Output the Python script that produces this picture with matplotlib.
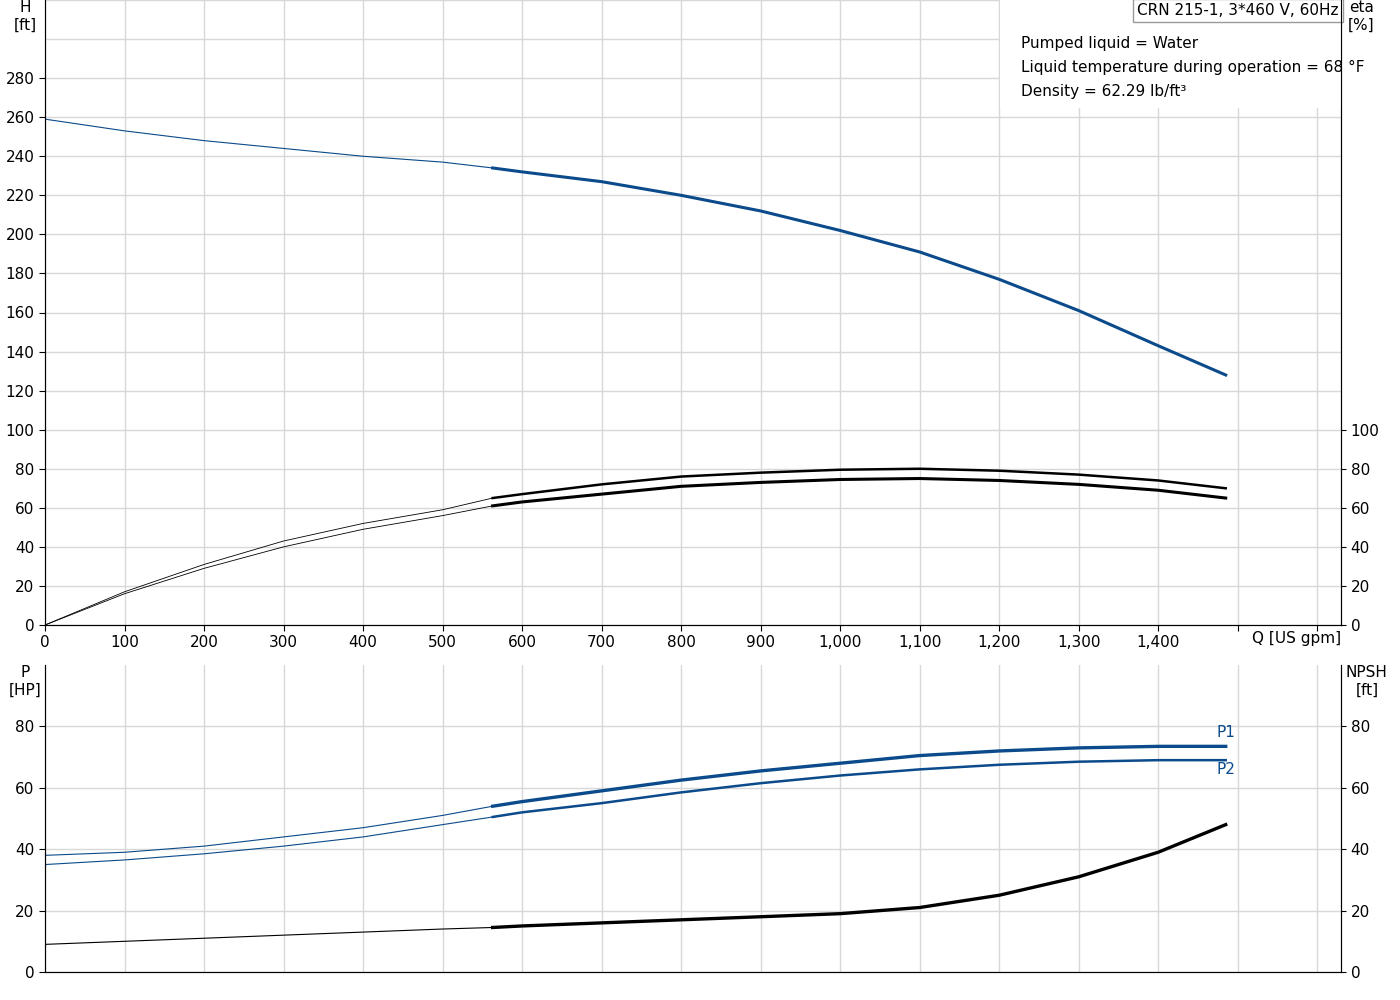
import matplotlib
matplotlib.use('Agg')
import matplotlib.pyplot as plt
import numpy as np
from matplotlib.patches import Rectangle

q = [0, 100, 200, 300, 400, 500, 563, 600, 700, 800, 900, 1000, 1100, 1200, 1300, 1400, 1485]
head = [259, 253, 248, 244, 240, 237, 234, 232, 227, 220, 212, 202, 191, 177, 161, 143, 128]
eta1 = [0, 17, 31, 43, 52, 59, 65, 67, 72, 76, 78, 79.5, 80, 79, 77, 74, 70]
eta2 = [0, 16, 29, 40, 49, 56, 61, 63, 67, 71, 73, 74.5, 75, 74, 72, 69, 65]
p1 = [38, 39, 41, 44, 47, 51, 54, 55.5, 59, 62.5, 65.5, 68, 70.5, 72, 73, 73.5, 73.5]
p2 = [35, 36.5, 38.5, 41, 44, 48, 50.5, 52, 55, 58.5, 61.5, 64, 66, 67.5, 68.5, 69, 69]
npsh = [9, 10, 11, 12, 13, 14, 14.5, 15, 16, 17, 18, 19, 21, 25, 31, 39, 48]
qmin = 563
xticks = list(range(0, 1500, 100))
xlabels = ['0'] + [f'{v:,}' for v in xticks[1:]]

blue = '#0b4a8b'
fig = plt.figure(figsize=(14, 10), dpi=100)
ax1 = fig.add_axes([45/1400, 1-625/1000, 1296/1400, 625/1000])
ax2 = fig.add_axes([45/1400, 1-972/1000, 1296/1400, 307/1000])

def curve(ax, y, color, lw_thin, lw_thick):
    qa = np.array(q); ya = np.array(y)
    m = qa <= qmin
    ax.plot(qa[m], ya[m], color=color, lw=lw_thin)
    ax.plot(qa[qa >= qmin], ya[qa >= qmin], color=color, lw=lw_thick)

for ax in (ax1, ax2):
    ax.set_xlim(0, 1630)
    ax.set_xticks(range(0, 1700, 100), minor=False)
    ax.grid(True, color='#d8d8d8', lw=1)
    ax.tick_params(labelsize=11, direction='out', length=4)
    for s in ax.spines.values():
        s.set_color('#333333')
    ax.spines['top'].set_visible(False)
    ax.set_axisbelow(True)

ax1.set_xticklabels(xlabels + ['', ''])
ax1.set_ylim(0, 320)
ax1.set_yticks(range(0, 300, 20))
ax1.set_yticks(range(0, 340, 20), minor=True)
ax1.tick_params(axis='y', which='minor', length=0)
ax1.grid(True, which='minor', axis='y', color='#d8d8d8', lw=1)
curve(ax1, head, blue, 0.8, 2.2)
curve(ax1, eta1, 'black', 0.6, 1.8)
curve(ax1, eta2, 'black', 0.6, 2.2)
ax1r = ax1.twinx()
ax1r.set_ylim(0, 320)
ax1r.set_yticks(range(0, 120, 20))
ax1r.tick_params(labelsize=11)
ax1r.spines['top'].set_visible(False)
ax1.text(-0.015, 1.0, 'H\n[ft]', transform=ax1.transAxes, ha='center', va='top', fontsize=11)
ax1r.text(1.0155, 1.0, 'eta\n[%]', transform=ax1.transAxes, ha='center', va='top', fontsize=11)
ax1.text(1.0, -0.01, 'Q [US gpm]', transform=ax1.transAxes, ha='right', va='top', fontsize=11)
ax1.add_patch(Rectangle((0.737, 0.827), 0.263, 0.175, transform=ax1.transAxes, facecolor='white', edgecolor='none', zorder=3))
ax1.text(0.998, 0.995, 'CRN 215-1, 3*460 V, 60Hz', transform=ax1.transAxes, ha='right', va='top', fontsize=11,
         bbox=dict(facecolor='white', edgecolor='#999999', pad=3), zorder=4)
for i, t in enumerate(['Pumped liquid = Water', 'Liquid temperature during operation = 68 °F', 'Density = 62.29 lb/ft³']):
    ax1.text(0.753, 0.930 - i*0.0385, t, transform=ax1.transAxes, ha='left', va='center', fontsize=11, zorder=4)

ax2.set_xticklabels([])
ax2.tick_params(axis='x', length=0)
ax2.set_ylim(0, 100)
ax2.set_yticks(range(0, 100, 20))
curve(ax2, p1, blue, 0.8, 2.4)
curve(ax2, p2, blue, 0.8, 1.8)
curve(ax2, npsh, 'black', 0.8, 2.4)
ax2.text(1485, 76.5, 'P1', color=blue, fontsize=11, ha='center')
ax2.text(1485, 64.5, 'P2', color=blue, fontsize=11, ha='center')
ax2r = ax2.twinx()
ax2r.set_ylim(0, 100)
ax2r.set_yticks(range(0, 100, 20))
ax2r.tick_params(labelsize=11)
ax2r.spines['top'].set_visible(False)
ax2.text(-0.015, 1.0, 'P\n[HP]', transform=ax2.transAxes, ha='center', va='top', fontsize=11)
ax2.text(1.02, 1.0, 'NPSH\n[ft]', transform=ax2.transAxes, ha='center', va='top', fontsize=11)

fig.savefig('out.png')
